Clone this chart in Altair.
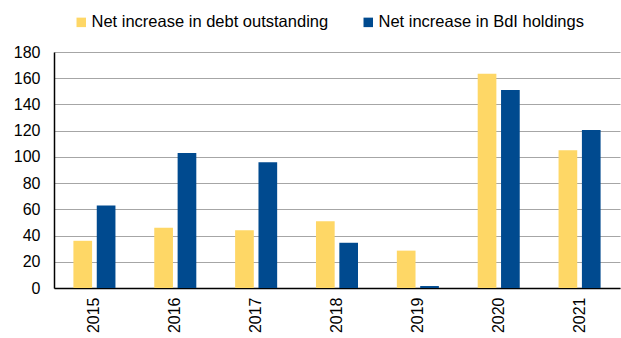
import altair as alt
import pandas as pd

years = ["2015", "2016", "2017", "2018", "2019", "2020", "2021"]
debt = [36, 46, 44, 51, 28.5, 163.5, 105]
bdi = [63, 103, 96, 34.5, 1.5, 151, 120.5]
series = ["Net increase in debt outstanding", "Net increase in BdI holdings"]
colors = ["#FED766", "#004A8F"]

rows = []
for y, a, b in zip(years, debt, bdi):
    rows.append({"year": y, "series": series[0], "value": a})
    rows.append({"year": y, "series": series[1], "value": b})
df = pd.DataFrame(rows)

font = "Liberation Sans"

chart = alt.Chart(df).mark_bar().encode(
    x=alt.X("year:N", sort=years, title=None,
            scale=alt.Scale(paddingInner=0.48, paddingOuter=0.24),
            axis=alt.Axis(labelAngle=-90, labelFontSize=16, labelFont=font,
                          labelColor="#000", ticks=False, domainColor="#000",
                          domainWidth=1.5, labelPadding=9, labelAlign="right",
                          labelBaseline="middle")),
    xOffset=alt.XOffset("series:N", sort=series,
                        scale=alt.Scale(paddingInner=0.2, paddingOuter=0)),
    y=alt.Y("value:Q", title=None,
            scale=alt.Scale(domain=[0, 180], nice=False),
            axis=alt.Axis(values=list(range(0, 181, 20)), labelFontSize=16,
                          labelFont=font, labelColor="#000", ticks=False,
                          domainColor="#000", domainWidth=1.5, gridColor="#a6a6a6",
                          gridWidth=1.2, labelPadding=14)),
    color=alt.Color("series:N", sort=series, title=None,
                    scale=alt.Scale(domain=series, range=colors),
                    legend=alt.Legend(orient="none", legendX=19, legendY=-38,
                                      direction="horizontal", symbolType="square",
                                      symbolSize=90, symbolStrokeWidth=0,
                                      labelFontSize=16.5, labelFont=font,
                                      labelColor="#000", columnPadding=31,
                                      labelOffset=2, labelLimit=400)),
).properties(
    width=566, height=236,
    autosize=alt.AutoSizeParams(type="none"),
    padding={"left": 54, "top": 52, "right": 1, "bottom": 50},
).configure_view(stroke=None).configure_axis(grid=True).configure_axisX(grid=False)

chart.save("out.html", embed_options={"renderer": "svg", "actions": False})
